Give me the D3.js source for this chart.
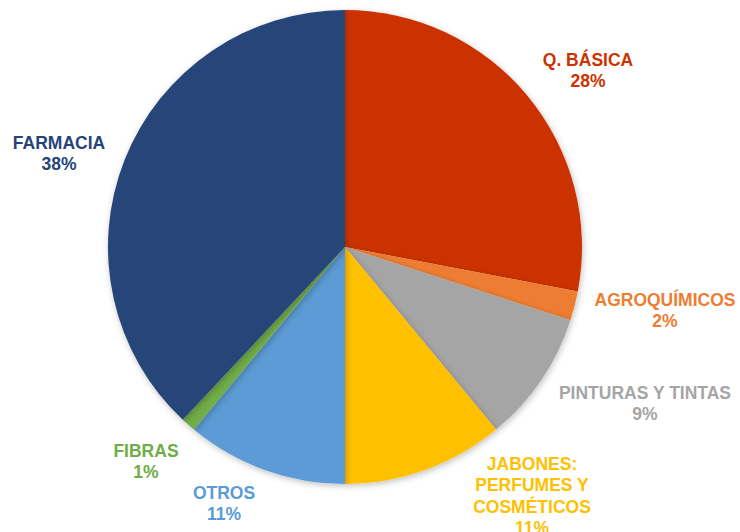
<!DOCTYPE html>
<html>
<head>
<meta charset="utf-8">
<script src="https://cdn.jsdelivr.net/npm/d3@7"></script>
<style>
  body { margin: 0; background: #fff; }
  text { font-family: "Liberation Sans", Arial, sans-serif; font-weight: bold; }
</style>
</head>
<body>
<div id="chart"></div>
<script>
// data, clockwise from 12 o'clock
var categories = ["Q. BÁSICA", "AGROQUÍMICOS", "PINTURAS Y TINTAS", "JABONES: PERFUMES Y COSMÉTICOS", "OTROS", "FIBRAS", "FARMACIA"];
var values = [28, 2, 9, 11, 11, 1, 38];
var labelLines = [["Q. BÁSICA"], ["AGROQUÍMICOS"], ["PINTURAS Y TINTAS"], ["JABONES:", "PERFUMES Y", "COSMÉTICOS"], ["OTROS"], ["FIBRAS"], ["FARMACIA"]];
var colors = ["#CC3300", "#ED7D31", "#A5A5A5", "#FFC000", "#5B9BD5", "#70AD47", "#264478"];

// label anchor (center of first line), picked to sit like the original
var labelPos = [[588, 66], [665, 306], [645, 399], [532, 470], [224, 499], [146, 457], [59, 149]];

var width = 740, height = 532;
var cx = 345, cy = 247, radius = 237;

var svg = d3.select("#chart").append("svg")
    .attr("width", width)
    .attr("height", height);

var defs = svg.append("defs");
var f = defs.append("filter").attr("id", "shadow")
    .attr("x", "-10%").attr("y", "-10%").attr("width", "120%").attr("height", "120%");
f.append("feDropShadow")
    .attr("dx", 1).attr("dy", 2).attr("stdDeviation", 3)
    .attr("flood-color", "#000").attr("flood-opacity", 0.25);

var pie = d3.pie().sort(null).value(function(d) { return d; });
var arc = d3.arc().innerRadius(0).outerRadius(radius);

var g = svg.append("g")
    .attr("transform", "translate(" + cx + "," + cy + ")");

g.selectAll("path")
    .data(pie(values))
  .enter().append("path")
    .attr("d", arc)
    .attr("fill", function(d, i) { return colors[i]; })
    .attr("filter", "url(#shadow)");

var lineH = 21.3;
var labels = svg.selectAll("text.lbl")
    .data(values)
  .enter().append("text")
    .attr("class", "lbl")
    .attr("text-anchor", "middle")
    .attr("font-size", "17.5px")
    .attr("fill", function(d, i) { return colors[i]; });

labels.each(function(d, i) {
  var t = d3.select(this);
  var lines = labelLines[i].concat([d + "%"]);
  lines.forEach(function(s, k) {
    t.append("tspan")
      .attr("x", labelPos[i][0])
      .attr("y", labelPos[i][1] + k * lineH)
      .text(s);
  });
});
</script>
</body>
</html>
